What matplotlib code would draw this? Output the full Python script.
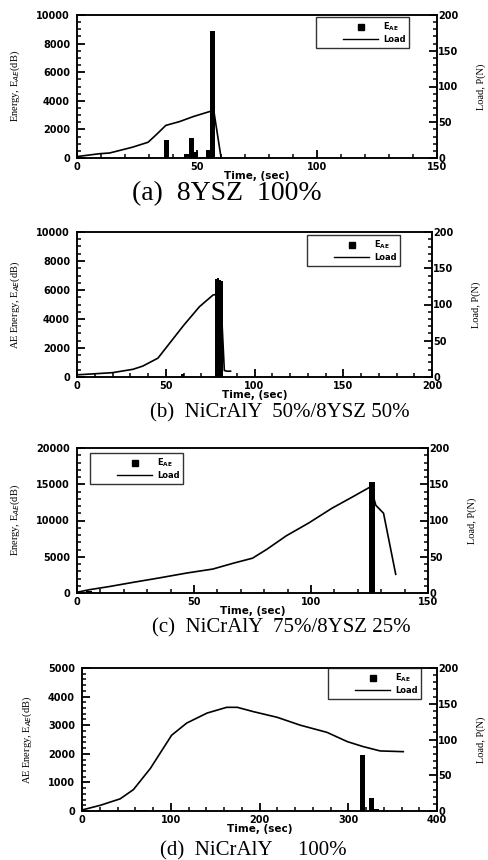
import matplotlib
matplotlib.use("Agg")
import matplotlib.pyplot as plt
from matplotlib.ticker import MultipleLocator
from matplotlib.lines import Line2D
from matplotlib.legend_handler import HandlerLine2D

# ---------------- data ----------------
# (a) 8YSZ 100%
a_load_t = [0, 9.4, 13.6, 23, 29.6, 33, 37, 42.8, 48.5, 55.3, 57, 60]
a_load_p = [2, 6, 7, 15, 22, 32.5, 45.6, 51, 58, 65, 66, 1]
a_bar_t = [37.2, 45.5, 47.7, 49.5, 54.7, 56.6]
a_bar_e = [1270, 300, 1380, 420, 560, 8900]

# (b) NiCrAlY 50% / 8YSZ 50%
b_load_t = [0, 11, 20, 31.5, 37, 45.6, 52, 60, 69, 76.6, 79.4, 81, 83, 84.5, 86.5]
b_load_p = [3, 4.6, 6, 10.6, 15, 26, 46, 71, 97, 113, 114.5, 110, 9, 8, 8]
b_bar_t = [59.5, 78.3, 79.4, 80.5, 81.4]
b_bar_e = [180, 6750, 6800, 6700, 6600]

# (c) NiCrAlY 75% / 8YSZ 25%
c_load_t = [0, 5.4, 14, 24, 35, 47, 58, 66.7, 75, 81, 89.5, 99, 109, 118, 125.5, 127.7, 131, 136.2]
c_load_p = [1, 4.6, 9, 14.7, 20.7, 27.6, 33, 41, 48, 60, 79, 96.5, 117, 133, 146.6, 121, 110, 25.8]
c_bar_t = [5, 126.2]
c_bar_e = [250, 15270]

# (d) NiCrAlY 100%
d_load_t = [0, 20.7, 43, 58, 77, 101, 118, 141, 163, 175, 193, 220, 246, 276, 299, 317, 336, 362]
d_load_p = [1.4, 8, 17, 30, 59.5, 106, 123, 137, 145, 145, 139, 131, 120, 110, 97, 90, 84, 83]
d_bar_t = [65, 70, 316.5, 325.8, 332]
d_bar_e = [30, 25, 1958, 444, 60]

captions = ["(a)  8YSZ  100%", "(b)  NiCrAlY  50%/8YSZ 50%",
            "(c)  NiCrAlY  75%/8YSZ 25%", "(d)  NiCrAlY     100%"]
caption_sizes = [20, 15, 15, 15]
ylabels = [r"Energy, E$_{AE}$(dB)", r"AE Energy, E$_{AE}$(dB)",
           r"Energy, E$_{AE}$(dB)", r"AE Energy, E$_{AE}$(dB)"]

# ---------------- layout ----------------
W, H = 488, 860
fig = plt.figure(figsize=(W / 100, H / 100), dpi=100)

def frac(l, t, r, b):
    return [l / W, 1 - b / H, (r - l) / W, (b - t) / H]

panels = [
    dict(rect=frac(77, 15, 437, 158), t=a_load_t, p=a_load_p, bt=a_bar_t, be=a_bar_e,
         xmax=150, xmaj=50, xmin=10, ymax=10000, ymaj=2000, ymin=500, bw=2.2,
         leg=(316, 17), cap=(132, 194)),
    dict(rect=frac(77, 232, 432, 377), t=b_load_t, p=b_load_p, bt=b_bar_t, be=b_bar_e,
         xmax=200, xmaj=50, xmin=10, ymax=10000, ymaj=2000, ymin=500, bw=1.3,
         leg=(307, 235), cap=(150, 413)),
    dict(rect=frac(77, 448, 428, 593), t=c_load_t, p=c_load_p, bt=c_bar_t, be=c_bar_e,
         xmax=150, xmaj=50, xmin=10, ymax=20000, ymaj=5000, ymin=1000, bw=2.6,
         leg=(90, 453), cap=(152, 628)),
    dict(rect=frac(82, 668, 437, 811), t=d_load_t, p=d_load_p, bt=d_bar_t, be=d_bar_e,
         xmax=400, xmaj=100, xmin=20, ymax=5000, ymaj=1000, ymin=200, bw=5.8,
         leg=(328, 668), cap=(160, 851)),
]


class PadHandler(HandlerLine2D):
    """Line handler drawn only on the right part of the handle box."""
    def __init__(self, lpad, **kw):
        super().__init__(**kw)
        self.lpad = lpad

    def create_artists(self, legend, orig_handle, xdescent, ydescent, width,
                       height, fontsize, trans):
        return super().create_artists(legend, orig_handle,
                                      xdescent - self.lpad * fontsize, ydescent,
                                      width - self.lpad * fontsize, height,
                                      fontsize, trans)


for i, pd in enumerate(panels):
    ax = fig.add_axes(pd["rect"])
    ax2 = ax.twinx()
    ax.bar(pd["bt"], pd["be"], width=pd["bw"], color="black", zorder=2)
    ax2.plot(pd["t"], pd["p"], color="black", lw=1.2, zorder=3)

    ax.set_xlim(0, pd["xmax"])
    ax.set_ylim(0, pd["ymax"])
    ax2.set_ylim(0, 200)

    ax.xaxis.set_major_locator(MultipleLocator(pd["xmaj"]))
    ax.xaxis.set_minor_locator(MultipleLocator(pd["xmin"]))
    ax.yaxis.set_major_locator(MultipleLocator(pd["ymaj"]))
    ax.yaxis.set_minor_locator(MultipleLocator(pd["ymin"]))
    ax2.yaxis.set_major_locator(MultipleLocator(50))
    ax2.yaxis.set_minor_locator(MultipleLocator(10))

    common = dict(direction="in", color="black", labelcolor="black")
    ax.tick_params(axis="x", which="major", length=5.5, width=1.3, pad=3, bottom=True, **common)
    ax.tick_params(axis="x", which="minor", length=3, width=1.1, bottom=True, **common)
    ax.tick_params(axis="y", which="major", length=5.5, width=1.3, pad=5, left=True, **common)
    ax.tick_params(axis="y", which="minor", length=3, width=1.1, left=True, **common)
    ax2.tick_params(axis="y", which="major", length=5.5, width=1.3, pad=1, right=True, **common)
    ax2.tick_params(axis="y", which="minor", length=3, width=1.1, right=True, **common)

    for lab in ax.get_xticklabels() + ax.get_yticklabels() + ax2.get_yticklabels():
        lab.set_fontfamily("DejaVu Sans")
        lab.set_fontweight("bold")
        lab.set_fontsize(7)

    for sp in list(ax.spines.values()) + list(ax2.spines.values()):
        sp.set_linewidth(1.1)
        sp.set_color("black")

    ax.set_xlabel("Time, (sec)", fontfamily="DejaVu Sans", fontweight="bold",
                  fontsize=7.5, labelpad=-1)
    ax.set_ylabel(ylabels[i], fontfamily="Liberation Serif", fontsize=7.5, labelpad=10)
    ax2.set_ylabel("Load, P(N)", fontfamily="Liberation Serif", fontsize=7.5, labelpad=13)

    # legend
    l, t = pd["leg"]
    h1 = Line2D([], [], color="black", marker="s", linestyle="none", markersize=5)
    h2 = Line2D([], [], color="black", lw=1.0)
    leg = ax2.legend([h1, h2], [r"E$_{\mathbf{AE}}$", "Load"],
                     loc="upper left", bbox_to_anchor=(l / W, 1 - t / H),
                     bbox_transform=fig.transFigure,
                     handler_map={h1: PadHandler(2.8), h2: PadHandler(2.8)},
                     prop=dict(family="DejaVu Sans", weight="bold", size=6),
                     frameon=True, fancybox=False, edgecolor="black",
                     handlelength=7.0, handletextpad=0.6, borderpad=0.45,
                     labelspacing=0.2, borderaxespad=0)
    leg.get_frame().set_linewidth(1.0)

    cx, cy = pd["cap"]
    fig.text(cx / W, 1 - cy / H, captions[i], fontfamily="Liberation Serif",
             fontsize=caption_sizes[i], ha="left", va="center")

fig.savefig("out.png", dpi=100)
